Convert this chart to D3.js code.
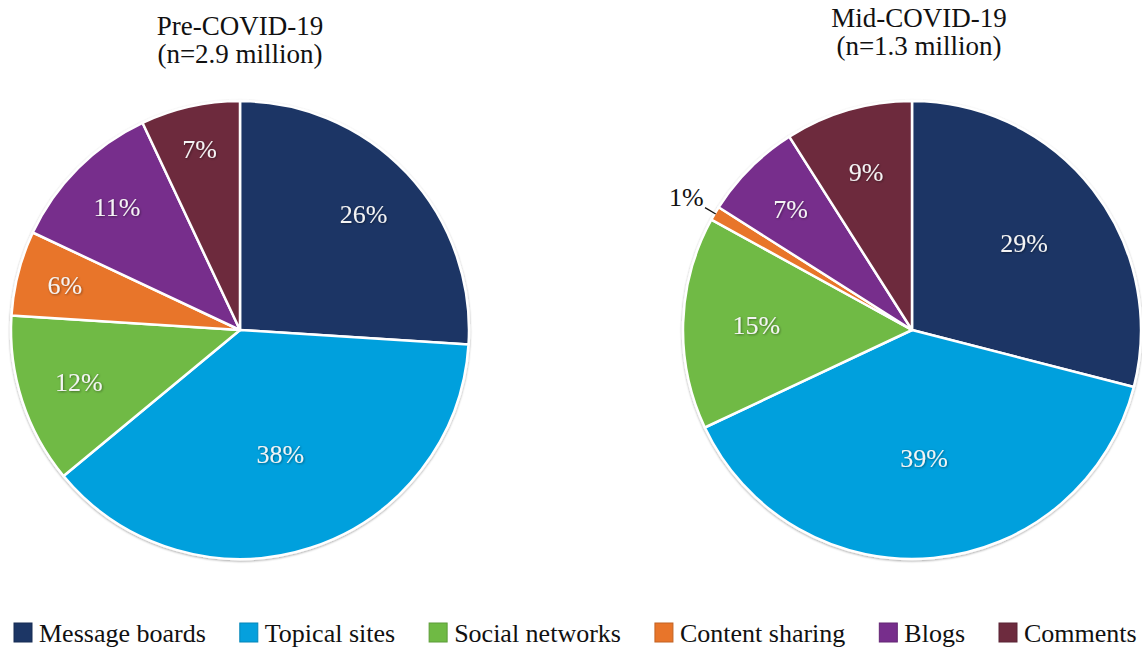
<!DOCTYPE html>
<html>
<head>
<meta charset="utf-8">
<script src="https://cdn.jsdelivr.net/npm/d3@7/dist/d3.min.js"></script>
<style>
  html, body { margin: 0; padding: 0; background: #ffffff; }
  svg { display: block; }
</style>
</head>
<body>
<svg id="chart" width="1142" height="650"></svg>
<script>
// Source categories (clockwise from 12 o'clock)
const categories = ["Message boards", "Topical sites", "Social networks", "Content sharing", "Blogs", "Comments"];
const colors = ["#1c3665", "#05a0dd", "#6fba44", "#e8752a", "#772e8c", "#6d2b3e"];

// Share of mentions (%) per period
const preCovid = [26, 38, 12, 6, 11, 7];
const midCovid = [29, 39, 15, 1, 7, 9];

const titles = [
  ["Pre-COVID-19", "(n=2.9 million)"],
  ["Mid-COVID-19", "(n=1.3 million)"]
];

const FONT = "Liberation Serif";

// Layout: pie geometry and label placement (fraction of radius; >1 means outside with a leader)
const layout = [
  { cx: 240, cy: 330, r: 229, titleX: 240, titleY: 35,
    labelR: [0.74, 0.57, 0.74, 0.79, 0.76, 0.81] },
  { cx: 912, cy: 330, r: 229, titleX: 919, titleY: 27,
    labelR: [0.62, 0.56, 0.68, 1.145, 0.75, 0.72] }
];

const svg = d3.select("#chart");

const defs = svg.append("defs");
const sh = defs.append("filter").attr("id", "pieShadow")
  .attr("x", "-5%").attr("y", "-5%").attr("width", "110%").attr("height", "110%");
sh.append("feDropShadow").attr("dx", 0).attr("dy", 1).attr("stdDeviation", 1.3)
  .attr("flood-color", "#000").attr("flood-opacity", 0.35);
const tsh = defs.append("filter").attr("id", "textShadow")
  .attr("x", "-20%").attr("y", "-20%").attr("width", "140%").attr("height", "140%");
tsh.append("feDropShadow").attr("dx", 0.8).attr("dy", 0.8).attr("stdDeviation", 0.8)
  .attr("flood-color", "#000").attr("flood-opacity", 0.45);

const color = d3.scaleOrdinal().domain(categories).range(colors);
const pie = d3.pie().sort(null).value(d => d.value);

[preCovid, midCovid].forEach((values, i) => {
  const L = layout[i];
  const data = categories.map((c, k) => ({ cat: c, value: values[k], idx: k }));
  const arcs = pie(data);
  const arc = d3.arc().innerRadius(0).outerRadius(L.r);

  // Title
  const t = svg.append("text")
    .attr("x", L.titleX).attr("y", L.titleY)
    .attr("text-anchor", "middle")
    .style("font-family", FONT)
    .style("font-size", "27px").attr("fill", "#111");
  t.append("tspan").attr("x", L.titleX).attr("dy", 0).text(titles[i][0]);
  t.append("tspan").attr("x", L.titleX).attr("dy", 27.5).text(titles[i][1]);

  const g = svg.append("g").attr("transform", `translate(${L.cx},${L.cy})`);

  g.append("g").attr("filter", "url(#pieShadow)")
    .selectAll("path").data(arcs).join("path")
    .attr("d", arc)
    .attr("fill", d => color(d.data.cat))
    .attr("stroke", "#ffffff")
    .attr("stroke-width", 2.5)
    .attr("stroke-linejoin", "round");

  // Value labels
  arcs.forEach(d => {
    const f = L.labelR[d.data.idx];
    const pos = d3.arc().innerRadius(L.r * f).outerRadius(L.r * f).centroid(d);
    const outside = f > 1;
    if (outside) {
      const p0 = d3.arc().innerRadius(L.r - 1).outerRadius(L.r - 1).centroid(d);
      const p1 = d3.arc().innerRadius(L.r * 1.05).outerRadius(L.r * 1.05).centroid(d);
      g.append("line")
        .attr("x1", p0[0]).attr("y1", p0[1]).attr("x2", p1[0]).attr("y2", p1[1])
        .attr("stroke", "#111").attr("stroke-width", 1.3);
    }
    g.append("text")
      .attr("x", pos[0]).attr("y", pos[1] + 9)
      .attr("text-anchor", "middle")
      .style("font-family", FONT)
      .style("font-size", "26px")
      .attr("fill", outside ? "#111" : "#f4f4f4")
      .attr("filter", outside ? null : "url(#textShadow)")
      .text(d.data.value + "%");
  });
});

// Legend
const legend = svg.append("g").attr("class", "legend");
let lx = 14;
const ly = 642;
categories.forEach(c => {
  const item = legend.append("g");
  item.append("rect")
    .attr("x", lx).attr("y", ly - 19).attr("width", 18).attr("height", 19)
    .attr("fill", color(c))
    .attr("stroke", d3.color(color(c)).darker(0.5)).attr("stroke-width", 1);
  const txt = item.append("text")
    .attr("x", lx + 25).attr("y", ly)
    .style("font-family", FONT)
    .style("font-size", "26px").attr("fill", "#111")
    .text(c);
  const w = txt.node().getComputedTextLength();
  lx += 25 + w + 34;
});
</script>
</body>
</html>
